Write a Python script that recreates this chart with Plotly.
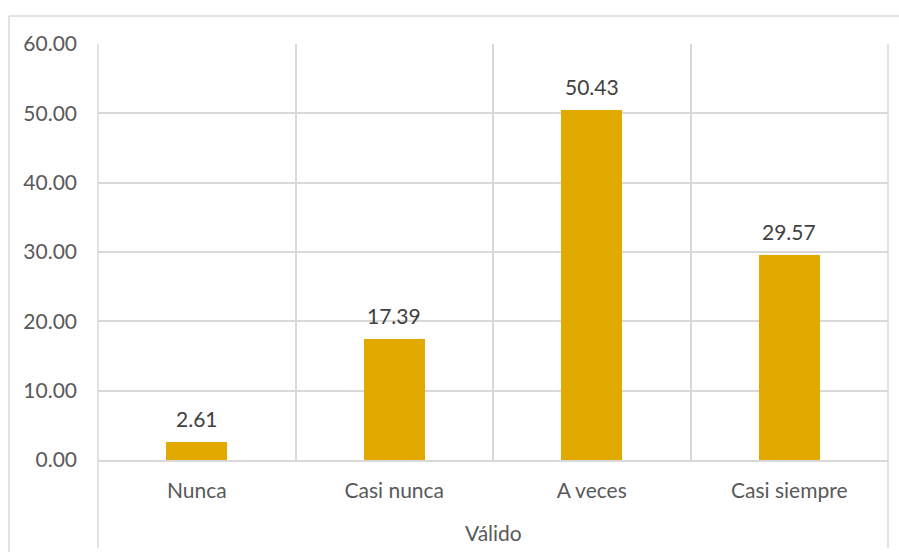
import plotly.graph_objects as go

# Response frequency (%) per category
categories = ["Nunca", "Casi nunca", "A veces", "Casi siempre"]
percentages = [2.61, 17.39, 50.43, 29.57]
group_label = "Válido"
y_ticks = [0, 10, 20, 30, 40, 50, 60]

GRID = "#d9d9d9"
BAR = "#e2aa00"
FONT = "Lato"
FS = 21

W, H = 899, 552
M_L, M_R, M_T, M_B = 98, 11, 44, 92
plot_w = W - M_L - M_R
plot_h = H - M_T - M_B


def px_x(px):
    return (px - M_L) / plot_w


def px_y(py):
    return (H - M_B - py) / plot_h


fig = go.Figure(
    go.Bar(
        x=categories,
        y=percentages,
        width=0.31,
        marker=dict(color=BAR, line=dict(width=0)),
        hoverinfo="x+y",
    )
)

# value labels above each bar
for cat, val in zip(categories, percentages):
    fig.add_annotation(
        x=cat, y=val, text=f"{val:.2f}", showarrow=False,
        yanchor="bottom", yshift=9,
        font=dict(family=FONT, size=FS, color="#404040"),
    )

# outer group label under the category labels
fig.add_annotation(
    xref="paper", yref="paper", x=0.5, y=px_y(532), text=group_label,
    showarrow=False, xanchor="center", yanchor="middle",
    font=dict(family=FONT, size=FS, color="#595959"),
)

line = dict(color=GRID, width=1.5)
shapes = [
    # left and right edges of the category table, running below the axis
    dict(type="line", xref="paper", yref="paper", x0=0, x1=0,
         y0=px_y(548), y1=1, line=line),
    dict(type="line", xref="paper", yref="paper", x0=1, x1=1,
         y0=px_y(548), y1=1, line=line),
    # chart frame (top and left)
    dict(type="line", xref="paper", yref="paper", x0=px_x(9), x1=px_x(W),
         y0=px_y(16), y1=px_y(16), line=line),
    dict(type="line", xref="paper", yref="paper", x0=px_x(9), x1=px_x(9),
         y0=px_y(16), y1=px_y(H), line=line),
]

fig.update_layout(
    width=W, height=H,
    margin=dict(l=M_L, r=M_R, t=M_T, b=M_B),
    paper_bgcolor="white", plot_bgcolor="white",
    showlegend=False,
    shapes=shapes,
    bargap=0,
    xaxis=dict(
        type="category",
        tickson="boundaries",
        showgrid=True, gridcolor=GRID, gridwidth=1.5,
        showline=True, linecolor=GRID, linewidth=1.5,
        ticks="", ticklabelstandoff=11,
        tickfont=dict(family=FONT, size=FS, color="#595959"),
        range=[-0.5, 3.5],
    ),
    yaxis=dict(
        range=[0, 60], tickvals=y_ticks, tickformat=".2f",
        showgrid=True, gridcolor=GRID, gridwidth=1.5,
        zeroline=False, showline=False,
        ticks="", ticklabelstandoff=20,
        tickfont=dict(family=FONT, size=FS, color="#595959"),
    ),
)

fig.write_html("out.html")
